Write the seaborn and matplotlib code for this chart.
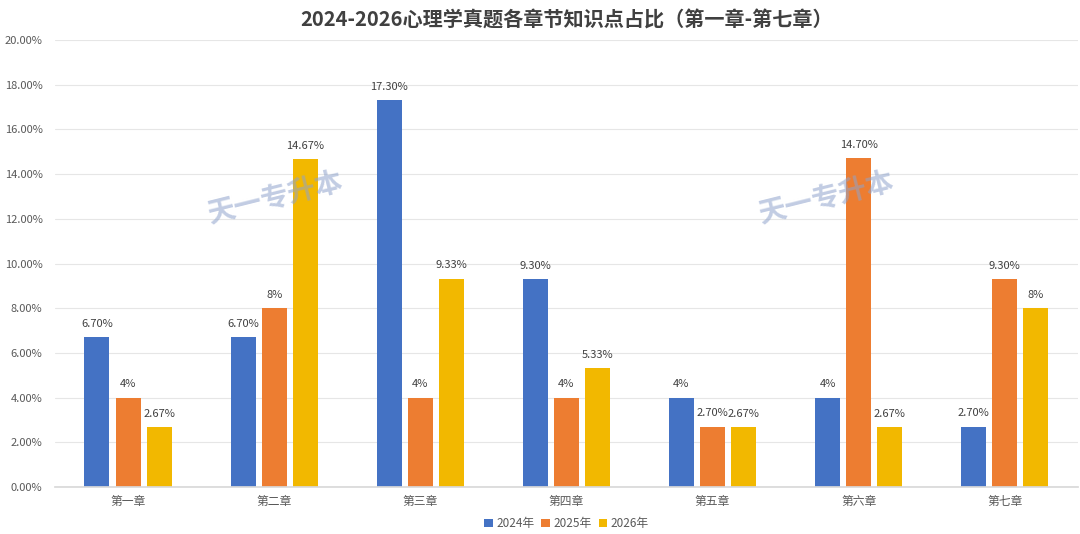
import matplotlib
matplotlib.use("Agg")
import matplotlib.pyplot as plt
import seaborn as sns
import pandas as pd
import numpy as np
from matplotlib.ticker import FuncFormatter, FixedLocator

chapters = ["第一章", "第二章", "第三章", "第四章", "第五章", "第六章", "第七章"]
years = ["2024年", "2025年", "2026年"]
v2024 = [6.70, 6.70, 17.30, 9.30, 4.00, 4.00, 2.70]
v2025 = [4.00, 8.00, 4.00, 4.00, 2.70, 14.70, 9.30]
v2026 = [2.67, 14.67, 9.33, 5.33, 2.67, 2.67, 8.00]
l2024 = ["6.70%", "6.70%", "17.30%", "9.30%", "4%", "4%", "2.70%"]
l2025 = ["4%", "8%", "4%", "4%", "2.70%", "14.70%", "9.30%"]
l2026 = ["2.67%", "14.67%", "9.33%", "5.33%", "2.67%", "2.67%", "8%"]
colors = ["#4472C4", "#ED7D31", "#F2B800"]

rows = []
for y, vals in zip(years, [v2024, v2025, v2026]):
    for c, v in zip(chapters, vals):
        rows.append({"chapter": c, "year": y, "value": v})
df = pd.DataFrame(rows)

sns.set_theme(style="white")
plt.rcParams["font.family"] = ["Noto Sans CJK SC", "DejaVu Sans"]

fig = plt.figure(figsize=(10.8, 5.34), dpi=100)
ax = fig.add_axes([0.051, 0.088, 0.947, 0.837])

sns.barplot(data=df, x="chapter", y="value", hue="year", palette=colors,
            width=0.64, gap=0.2, ax=ax, legend=True, saturation=1,
            linewidth=0, edgecolor="none")

for cont, labs in zip(ax.containers, [l2024, l2025, l2026]):
    ax.bar_label(cont, labels=labs, padding=6, fontsize=8, color="#404040")

ax.set_ylim(0, 20)
ax.set_xlim(-0.5, 6.5)
ax.set_yticks(np.arange(0, 20.01, 2))
ax.yaxis.set_major_formatter(FuncFormatter(lambda v, p: f"{v:.2f}%"))
ax.tick_params(axis="y", labelsize=8, labelcolor="#595959", length=0, pad=9)
ax.tick_params(axis="x", labelsize=8.5, labelcolor="#595959", length=0, pad=6)
ax.xaxis.set_minor_locator(FixedLocator(np.arange(-0.5, 7, 1)))
ax.tick_params(axis="x", which="minor", length=5, color="#D9D9D9", width=0.8)
ax.grid(axis="y", color="#E6E6E6", linewidth=0.8)
ax.set_axisbelow(True)
for s in ["top", "right", "left"]:
    ax.spines[s].set_visible(False)
ax.spines["bottom"].set_color("#D9D9D9")
ax.set_xlabel("")
ax.set_ylabel("")

leg = ax.legend(loc="center", bbox_to_anchor=(0.5, -0.082), ncol=3,
                frameon=False, fontsize=8.5, handlelength=0.7, handleheight=0.7,
                handletextpad=0.3, columnspacing=0.6)
for t in leg.get_texts():
    t.set_color("#595959")

fig.text(0.525, 0.962, "2024-2026心理学真题各章节知识点占比（第一章-第七章）",
         ha="center", va="center", fontsize=14.5, fontweight="bold", color="#404040")

for x, y in [(0.255, 0.63), (0.765, 0.63)]:
    fig.text(x, y, "天一专升本", ha="center", va="center", fontsize=20,
             fontweight="bold", color="#8FA3CC", alpha=0.55, rotation=14)

fig.savefig("out.png", dpi=100)
